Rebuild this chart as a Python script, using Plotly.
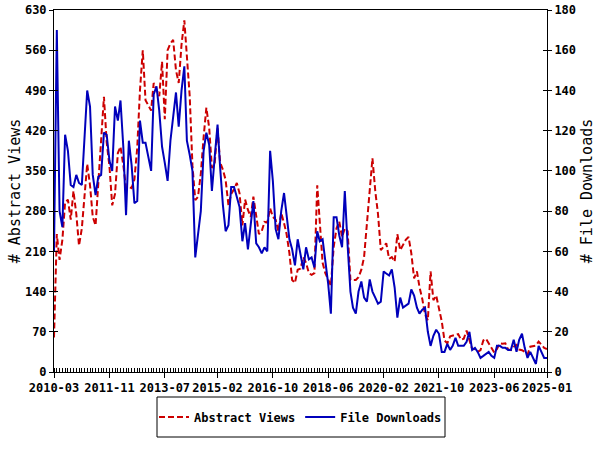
import pandas as pd
import plotly.graph_objects as go

months = pd.date_range("2010-03-01", periods=179, freq="MS").strftime("%Y-%m-%d").tolist()

abstract_views = [
    60, 240, 195, 230, 295, 300, 265, 315, 275, 220,
    250, 305, 362, 325, 270, 255, 329, 386, 479, 400,
    357, 290, 310, 381, 392, 360, 320, 322, 320, 335,
    390, 490, 560, 473, 465, 455, 503, 490, 480, 540,
    440, 560, 572, 578, 525, 503, 570, 612, 555, 480,
    360, 299, 305, 345, 409, 460, 425, 355, 364, 425,
    365, 352, 334, 290, 310, 318, 329, 311, 255, 300,
    282, 270, 305, 270, 240, 245, 261, 260, 285, 270,
    265, 245, 277, 259, 240, 207, 160, 155, 178, 180,
    200, 190, 172, 169, 172, 325, 260, 190, 172, 160,
    150, 218, 250, 262, 235, 250, 245, 160, 160, 160,
    165, 178, 200, 255, 320, 372, 315, 275, 212, 218,
    224, 197, 200, 192, 240, 212, 220, 230, 235, 207,
    163, 175, 148, 127, 100, 90, 175, 125, 133, 110,
    88, 55, 50, 62, 63, 65, 66, 56, 58, 72,
    55, 40, 40, 35, 38, 55, 58, 50, 40, 34,
    40, 50, 49, 50, 39, 38, 44, 47, 39, 38,
    35, 30, 44, 45, 46, 53, 48, 42, 40,
]

file_downloads = [
    60, 170, 80, 72, 118, 110, 93, 92, 98, 94,
    93, 120, 140, 132, 98, 88, 97, 98, 119, 118,
    105, 100, 132, 125, 135, 112, 78, 115, 103, 84,
    85, 125, 114, 114, 106, 100, 138, 142, 130, 112,
    104, 95, 115, 128, 139, 122, 140, 152, 115, 108,
    100, 57, 67, 80, 110, 119, 113, 90, 107, 123,
    102, 83, 70, 73, 92, 92, 87, 82, 65, 74,
    61, 72, 85, 64, 62, 59, 62, 60, 110, 95,
    71, 66, 80, 89, 78, 66, 61, 53, 66, 58,
    51, 62, 56, 57, 52, 70, 65, 66, 55, 44,
    29, 77, 77, 68, 62, 90, 63, 40, 32, 29,
    40, 45, 37, 35, 46, 40, 37, 34, 35, 50,
    49, 48, 51, 42, 27, 37, 32, 33, 34, 41,
    38, 32, 29, 31, 32, 20, 13, 18, 21, 19,
    10, 10, 14, 11, 13, 17, 13, 13, 13, 15,
    20, 11, 12, 10, 7, 8, 9, 10, 8, 7,
    13, 13, 12, 12, 11, 11, 16, 10, 16, 19,
    12, 7, 10, 7, 4, 13, 10, 7, 7,
]

x_tick_vals = ["2010-03-01", "2011-11-01", "2013-07-01", "2015-02-01", "2016-10-01",
               "2018-06-01", "2020-02-01", "2021-10-01", "2023-06-01", "2025-01-01"]
x_tick_text = ["2010-03", "2011-11", "2013-07", "2015-02", "2016-10",
               "2018-06", "2020-02", "2021-10", "2023-06", "2025-01"]
left_ticks = [0, 70, 140, 210, 280, 350, 420, 490, 560, 630]
right_ticks = [0, 20, 40, 60, 80, 100, 120, 140, 160, 180]

RED = "#cc0000"
BLUE = "#0000bb"
FONT = dict(family="DejaVu Sans Mono", size=12, color="black", weight="bold")
TFONT = dict(family="DejaVu Sans Mono", size=15, color="black", weight="normal")

fig = go.Figure()
fig.add_trace(go.Scatter(x=months, y=abstract_views, name="Abstract Views", mode="lines",
                         line=dict(color=RED, width=2, dash="6px,3px"), yaxis="y"))
fig.add_trace(go.Scatter(x=months, y=file_downloads, name="File Downloads", mode="lines",
                         line=dict(color=BLUE, width=2), yaxis="y2"))
# helper traces so the tick-only overlay axes are drawn
fig.add_trace(go.Scatter(x=[], y=[], xaxis="x2", yaxis="y3", showlegend=False, hoverinfo="skip"))
fig.add_trace(go.Scatter(x=[], y=[], xaxis="x", yaxis="y4", showlegend=False, hoverinfo="skip"))

xr = ["2010-03-01", "2025-01-01"]
fig.update_layout(
    width=600, height=450,
    margin=dict(l=54, r=53, t=10, b=78),
    paper_bgcolor="white", plot_bgcolor="white",
    font=FONT,
    showlegend=True,
    xaxis=dict(type="date", range=xr, tickvals=x_tick_vals, ticktext=x_tick_text, tickangle=0,
               ticks="outside", ticklen=5, tickcolor="black", showgrid=False, zeroline=False,
               showline=True, linecolor="black", linewidth=1, mirror=True, automargin=False,
               minor=dict(dtick="M1", tick0="2010-03-01", ticks="inside", ticklen=4,
                          tickcolor="black", showgrid=False),
               tickfont=FONT),
    xaxis2=dict(type="date", range=xr, overlaying="x", anchor="y", tickvals=x_tick_vals,
                ticks="inside", ticklen=4, tickcolor="black", showticklabels=False,
                showgrid=False, zeroline=False, showline=False, automargin=False),
    yaxis=dict(range=[0, 630], tickvals=left_ticks, ticks="outside", ticklen=4,
               tickcolor="black", showgrid=False, zeroline=False, showline=True,
               linecolor="black", linewidth=1, automargin=False,
               title=dict(text="# Abstract Views", font=TFONT, standoff=0),
               tickfont=FONT),
    yaxis2=dict(range=[0, 180], tickvals=right_ticks, overlaying="y", side="right",
                ticks="outside", ticklen=4, tickcolor="black", showgrid=False,
                zeroline=False, showline=True, linecolor="black", linewidth=1, automargin=False,
                title=dict(text="# File Downloads", font=TFONT, standoff=6),
                tickfont=FONT),
    yaxis3=dict(range=[0, 630], tickvals=left_ticks, overlaying="y", side="left", anchor="x2",
                ticks="inside", ticklen=4, tickcolor="black", showticklabels=False,
                showgrid=False, zeroline=False, showline=False, automargin=False),
    yaxis4=dict(range=[0, 180], tickvals=right_ticks, overlaying="y", side="right", anchor="x",
                ticks="inside", ticklen=4, tickcolor="black", showticklabels=False,
                showgrid=False, zeroline=False, showline=False, automargin=False),
    legend=dict(orientation="h", x=0.5, xanchor="center", y=-0.124, yanchor="middle",
                bgcolor="rgba(0,0,0,0)", borderwidth=0, font=FONT),
    shapes=[dict(type="rect", xref="paper", yref="paper",
                 x0=(157 - 54) / 493, x1=(445 - 54) / 493,
                 y0=(372 - 437) / 362, y1=(372 - 397) / 362,
                 line=dict(color="black", width=1), fillcolor="rgba(0,0,0,0)", layer="above")],
)

fig.write_html("out.html")
